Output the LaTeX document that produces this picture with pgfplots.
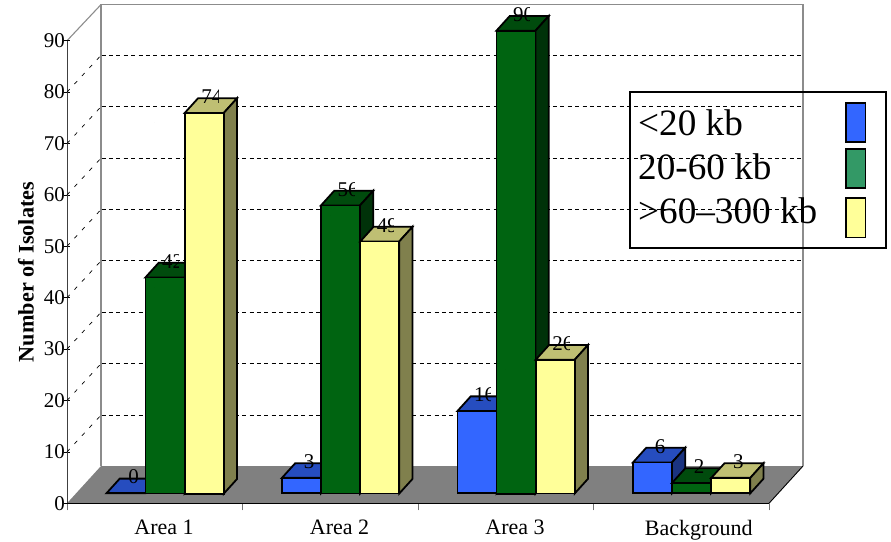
\documentclass[border=0pt]{standalone}
\usepackage{pgfplots}
\pgfplotsset{compat=1.18}
\usepackage{pgfplotstable}
\usepackage{fontspec}
\setmainfont{Liberation Serif}

\definecolor{floorgray}{HTML}{808080}
\definecolor{wallgray}{HTML}{8C8C8C}
\definecolor{blueF}{HTML}{3366FF}\definecolor{blueT}{HTML}{264DBF}\definecolor{blueS}{HTML}{1A3380}
\definecolor{greenF}{HTML}{006411}\definecolor{greenT}{HTML}{004B0D}\definecolor{greenS}{HTML}{003209}
\definecolor{yellowF}{HTML}{FFFF99}\definecolor{yellowT}{HTML}{BFBF73}\definecolor{yellowS}{HTML}{80804D}
\definecolor{keygreen}{HTML}{339966}

% group index and number of isolates, one table per size class
\pgfplotstableread{
x v
0 0
1 3
2 16
3 6
}\tableSmall
\pgfplotstableread{
x v
0 42
1 56
2 90
3 2
}\tableMedium
\pgfplotstableread{
x v
0 74
1 49
2 26
3 3
}\tableLarge

\newcommand{\barlabelfont}{\fontsize{21}{22}\selectfont}

% a bar drawn as a cuboid standing on the chart floor; args: offset, front, top, side colours
\pgfplotsset{cuboid/.style n args={4}{
  scatter, only marks, mark=*, mark size=0pt, draw=none, fill=none,
  visualization depends on={rawy \as \barval},
  scatter/@post marker code/.code={},
  scatter/@pre marker code/.code={
    \pgfmathsetmacro\barh{\barval*5.145}
    \pgfmathtruncatemacro\barnum{\barval}
    \pgfmathsetmacro\xa{#1}
    \pgfmathsetmacro\xb{#1+39}
    \pgfmathsetmacro\xc{#1+52.3}
    \pgfmathsetmacro\xd{#1+13.3}
    \pgfmathsetmacro\xl{#1+27.15}
    \pgfmathsetmacro\xclip{#1+33.4}
    \pgfmathsetmacro\ya{10}
    \pgfmathsetmacro\yb{10+14.7}
    \pgfmathsetmacro\yc{10-\barh}
    \pgfmathsetmacro\yd{10+14.7-\barh}
    \pgfmathsetmacro\yl{19.4}
    \begin{scope}[line width=1.8pt, line join=miter, draw=black]
      \filldraw[fill=#3] (\xa pt,\ya pt) -- (\xb pt,\ya pt) -- (\xc pt,\yb pt) -- (\xd pt,\yb pt) -- cycle;
      \filldraw[fill=#4] (\xb pt,\ya pt) -- (\xc pt,\yb pt) -- (\xc pt,\yd pt) -- (\xb pt,\yc pt) -- cycle;
      \filldraw[fill=#2] (\xa pt,\ya pt) rectangle (\xb pt,\yc pt);
      \begin{scope}
        \clip (\xa pt,\yl pt-8pt) rectangle (\xclip pt,\yl pt+20pt);
        \node[anchor=base,inner sep=0pt,font=\barlabelfont,text=black] at (\xl pt,\yl pt) {\barnum};
      \end{scope}
    \end{scope}
  },
}}

\begin{document}
\begin{tikzpicture}[x=1pt,y=1pt]
  \useasboundingbox (0,0) rectangle (891pt,-541pt);

  % chart floor and back wall
  \begin{scope}[x=1pt,y=-1pt]
    \fill[floorgray] (67,503.3) -- (101,466) -- (803,466) -- (769,503.3) -- cycle;
    \draw[black,line width=0.9pt] (803,466) -- (769,503.3);
    \draw[wallgray,line width=1.4pt,line join=miter] (101,466) -- (101,4.6) -- (803,4.6) -- (803,466);
    \draw[wallgray,line width=1.1pt] (67,40.7) -- (101,4.6);
  \end{scope}

  \begin{axis}[
    at={(67pt,-503.3pt)}, anchor=south west,
    scale only axis, width=702pt, height=462.6pt,
    xmin=-0.5, xmax=3.5, ymin=0, ymax=90,
    clip=false,
    axis x line*=bottom, axis y line*=left,
    x axis line style={-,black,line width=1.4pt},
    y axis line style={-,black!75,line width=1pt},
    xtick={0.0527,1.0527,2.0527,3.0997},
    xticklabels={Area 1,Area 2,Area 3,Background},
    minor xtick={-0.5,0.5,1.5,2.5,3.5},
    ytick={0,10,...,90},
    major x tick style={draw=none},
    minor x tick style={black!55,line width=1pt},
    minor tick length=7pt,
    minor tick style={yshift=-3.5pt},
    y tick style={black,line width=0.8pt},
    major tick length=5pt,
    tick align=center,
    xtick pos=bottom, ytick pos=left,
    /pgf/number format/assume math mode=true,
    yticklabel style={font=\fontsize{21}{22}\selectfont,text=black,xshift=4pt},
    xticklabel style={font=\fontsize{22}{24}\selectfont,text=black,yshift=-11pt},
    every axis y label/.style={at={(axis description cs:-0.0584,0.5)},rotate=90,anchor=center},
    ylabel={Number of Isolates},
    ylabel style={font=\bfseries\fontsize{22.2}{24}\selectfont},
  ]
    % dashed rules on the side wall and the back wall
    \pgfplotsinvokeforeach{10,20,30,40,50,60,70,80}{
      \draw[black,line width=0.7pt,dash pattern=on 4pt off 7pt] (axis cs:-0.5,#1) -- ++(34pt,36.8pt);
      \addplot[black,line width=0.9pt,dash pattern=on 4pt off 3.4pt,shift={(34.5pt,36.8pt)},forget plot]
        coordinates {(-0.5,#1) (3.485,#1)};
    }
    \addplot[cuboid={-48.3}{blueF}{blueT}{blueS}] table[x=x,y=v] {\tableSmall};
    \addplot[cuboid={-9.3}{greenF}{greenT}{greenS}] table[x=x,y=v] {\tableMedium};
    \addplot[cuboid={30}{yellowF}{yellowT}{yellowS}] table[x=x,y=v] {\tableLarge};
  \end{axis}

  % key
  \begin{scope}[x=1pt,y=-1pt]
    \draw[black,line width=1.8pt] (630,92) rectangle (886,248);
    \begin{scope}[every node/.style={anchor=base west,inner sep=0pt,font=\fontsize{37.2}{40}\selectfont}]
      \node at (638,135) {<20 kb};
      \node at (638,179.3) {20-60 kb};
      \node at (638,223.3) {>60–300 kb};
    \end{scope}
    \begin{scope}[draw=black,line width=1.8pt]
      \filldraw[fill=blueF] (846,103) rectangle (865.5,142);
      \filldraw[fill=keygreen] (846,149) rectangle (865.5,188);
      \filldraw[fill=yellowF] (846,198) rectangle (865.5,237.5);
    \end{scope}
  \end{scope}
\end{tikzpicture}
\end{document}
